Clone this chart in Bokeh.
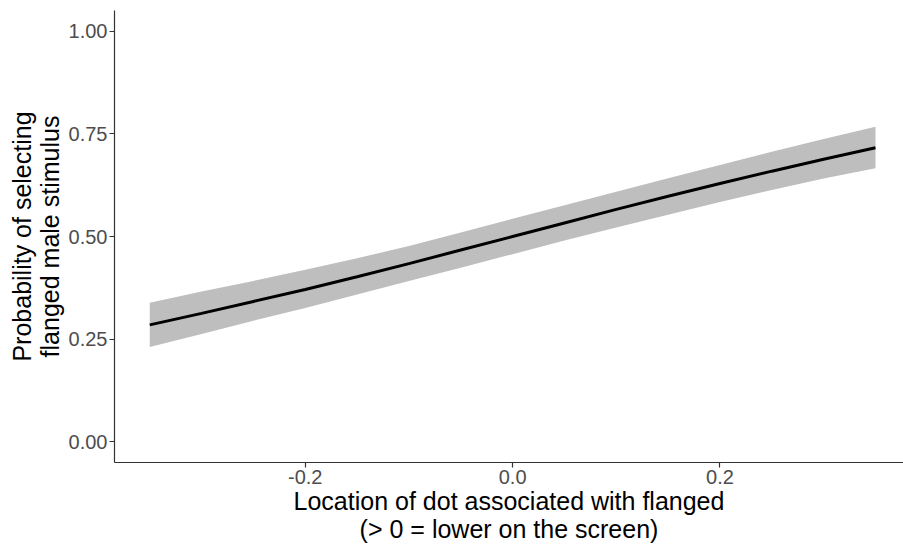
from bokeh.plotting import figure
from bokeh.models import FixedTicker, NumeralTickFormatter, ColumnDataSource, Range1d
from bokeh.embed import file_html
from bokeh.resources import INLINE

# Values
x_loc = [-0.35, -0.30, -0.25, -0.20, -0.15, -0.10, -0.05, 0.00,
         0.05, 0.10, 0.15, 0.20, 0.25, 0.30, 0.35]
prob = [0.285, 0.313, 0.342, 0.371, 0.402, 0.434, 0.467, 0.500,
        0.533, 0.566, 0.598, 0.629, 0.659, 0.688, 0.716]
lower = [0.231, 0.263, 0.295, 0.326, 0.359, 0.392, 0.424, 0.457,
         0.490, 0.522, 0.553, 0.584, 0.613, 0.641, 0.666]
upper = [0.339, 0.366, 0.392, 0.419, 0.447, 0.477, 0.510, 0.543,
         0.576, 0.609, 0.642, 0.674, 0.706, 0.737, 0.767]
x_ticks = [-0.2, 0.0, 0.2]
y_ticks = [0.0, 0.25, 0.5, 0.75, 1.0]
x_title = "Location of dot associated with flanged\n(> 0 = lower on the screen)"
y_title = "Probability of selecting\nflanged male stimulus"

src = ColumnDataSource(dict(x=x_loc, y=prob, lo=lower, hi=upper))

p = figure(width=903, height=545, output_backend="svg", toolbar_location=None,
           x_range=Range1d(-0.384, 0.377), y_range=Range1d(-0.05, 1.05),
           min_border_left=114, min_border_right=0, min_border_top=10,
           min_border_bottom=81)
p.outline_line_color = None
p.xgrid.visible = False
p.ygrid.visible = False
p.background_fill_color = "white"
p.border_fill_color = "white"

p.varea(x="x", y1="lo", y2="hi", source=src, fill_color="#bebebe")
p.line(x="x", y="y", source=src, line_color="black", line_width=3)

FONT = "Liberation Sans"
for ax in (p.xaxis[0], p.yaxis[0]):
    ax.axis_line_color = "#333333"
    ax.axis_line_width = 1.2
    ax.major_tick_line_color = "#333333"
    ax.major_tick_line_width = 1.2
    ax.major_tick_out = 5
    ax.major_tick_in = 0
    ax.minor_tick_line_color = None
    ax.major_label_text_font = FONT
    ax.major_label_text_font_size = "20px"
    ax.major_label_text_color = "#4d4d4d"
    ax.major_label_text_line_height = 0.9
    ax.axis_label_text_font = FONT
    ax.axis_label_text_font_size = "25px"
    ax.axis_label_text_font_style = "normal"
    ax.axis_label_text_color = "black"
    ax.axis_label_text_line_height = 1.0
    ax.major_label_standoff = 2

p.xaxis[0].ticker = FixedTicker(ticks=x_ticks)
p.xaxis[0].formatter = NumeralTickFormatter(format="0.0")
p.yaxis[0].ticker = FixedTicker(ticks=y_ticks)
p.yaxis[0].formatter = NumeralTickFormatter(format="0.00")
p.xaxis[0].axis_label = x_title
p.yaxis[0].axis_label = y_title
p.xaxis[0].axis_label_standoff = 0
p.yaxis[0].axis_label_standoff = 2

open("out.html", "w").write(file_html(p, INLINE))
